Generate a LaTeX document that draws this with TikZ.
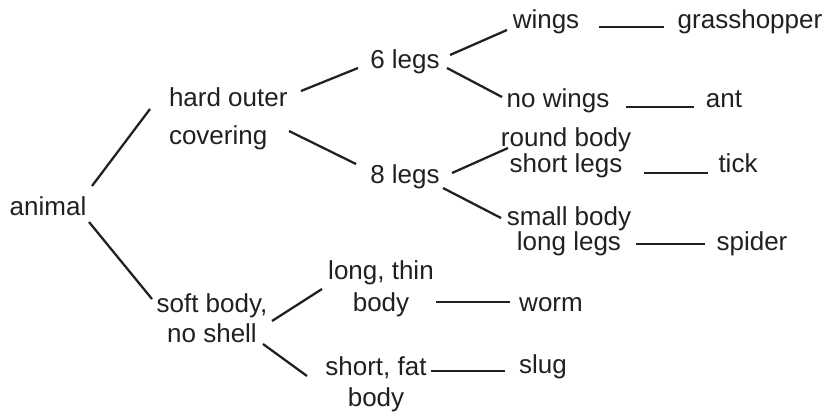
\documentclass[tikz,border=0pt]{standalone}
\usepackage{fontspec}
\setmainfont{Liberation Sans}
\usepackage{tikz}
\usetikzlibrary{calc}
\definecolor{Ink}{HTML}{231F20}

\begin{document}
\begin{tikzpicture}[x=0.75pt, y=-0.75pt,
    every node/.style={inner sep=0pt, outer sep=0pt, anchor=base, text=Ink,
        font=\fontsize{19.5}{23}\selectfont},
    twoline/.style={align=center, font=\fontsize{19.5}{#1}\selectfont},
    branch/.style={draw=Ink, line width=1.7pt}]
    \useasboundingbox (0,0) rectangle (830,415);

    % Root and first split
    \node (animal) at (48,215) {animal};
    \node[twoline=28.5pt, align=left, anchor=base west] (hard) at (169,144) {hard outer\\covering};
    \node[twoline=22.5pt] (soft) at (212,342) {soft body,\\no shell};

    % Hard outer covering
    \node (legs6) at (405,68) {6 legs};
    \node (legs8) at (405,183) {8 legs};
    \node (wings) at (546,28) {wings};
    \node (nowings) at (558,107) {no wings};
    \node[twoline=19.5pt] (round) at (566,172) {round body\\short legs};
    \node[twoline=18.75pt] (small) at (569,250) {small body\\long legs};

    % Soft body
    \node[twoline=24pt] (longthin) at (381,311) {long, thin\\body};
    \node[twoline=23.25pt] (shortfat) at (376,406) {short, fat\\body};

    % Animals
    \node (grasshopper) at (750,28) {grasshopper};
    \node (ant) at (724,107) {ant};
    \node (tick) at (738,172) {tick};
    \node (spider) at (752,250) {spider};
    \node (worm) at (551,311) {worm};
    \node (slug) at (543,373) {slug};

    % Branches
    \draw[branch] ($(animal.base)+(44,-29)$) -- ($(hard.base west)+(-19,-35)$);
    \draw[branch] ($(animal.base)+(41,7)$) -- ($(soft.base)+(-60,-43)$);
    \draw[branch] ($(hard.base west)+(132,-53)$) -- ($(legs6.base)+(-47,0)$);
    \draw[branch] ($(hard.base west)+(120,-13)$) -- ($(legs8.base)+(-49,-19)$);
    \draw[branch] ($(legs6.base)+(45,-13)$) -- ($(wings.base)+(-39,2)$);
    \draw[branch] ($(legs6.base)+(42,0)$) -- ($(nowings.base)+(-56,-10)$);
    \draw[branch] ($(legs8.base)+(47,-10)$) -- ($(round.base)+(-58,-24)$);
    \draw[branch] ($(legs8.base)+(38,5)$) -- ($(small.base)+(-68,-32)$);
    \draw[branch] ($(soft.base)+(60,-21)$) -- ($(longthin.base)+(-59,-22)$);
    \draw[branch] ($(soft.base)+(51,2)$) -- ($(shortfat.base)+(-69,-30)$);

    % Leaves
    \draw[branch] ($(wings.base)+(53,-1)$) -- ($(grasshopper.base)+(-86,-1)$);
    \draw[branch] ($(nowings.base)+(68,0)$) -- ($(ant.base)+(-30,0)$);
    \draw[branch] ($(round.base)+(78,1)$) -- ($(tick.base)+(-30,1)$);
    \draw[branch] ($(small.base)+(67,-6)$) -- ($(spider.base)+(-47,-6)$);
    \draw[branch] ($(longthin.base)+(55,-9)$) -- ($(worm.base)+(-41,-9)$);
    \draw[branch] ($(shortfat.base)+(55,-35)$) -- ($(slug.base)+(-38,-2)$);
\end{tikzpicture}
\end{document}
